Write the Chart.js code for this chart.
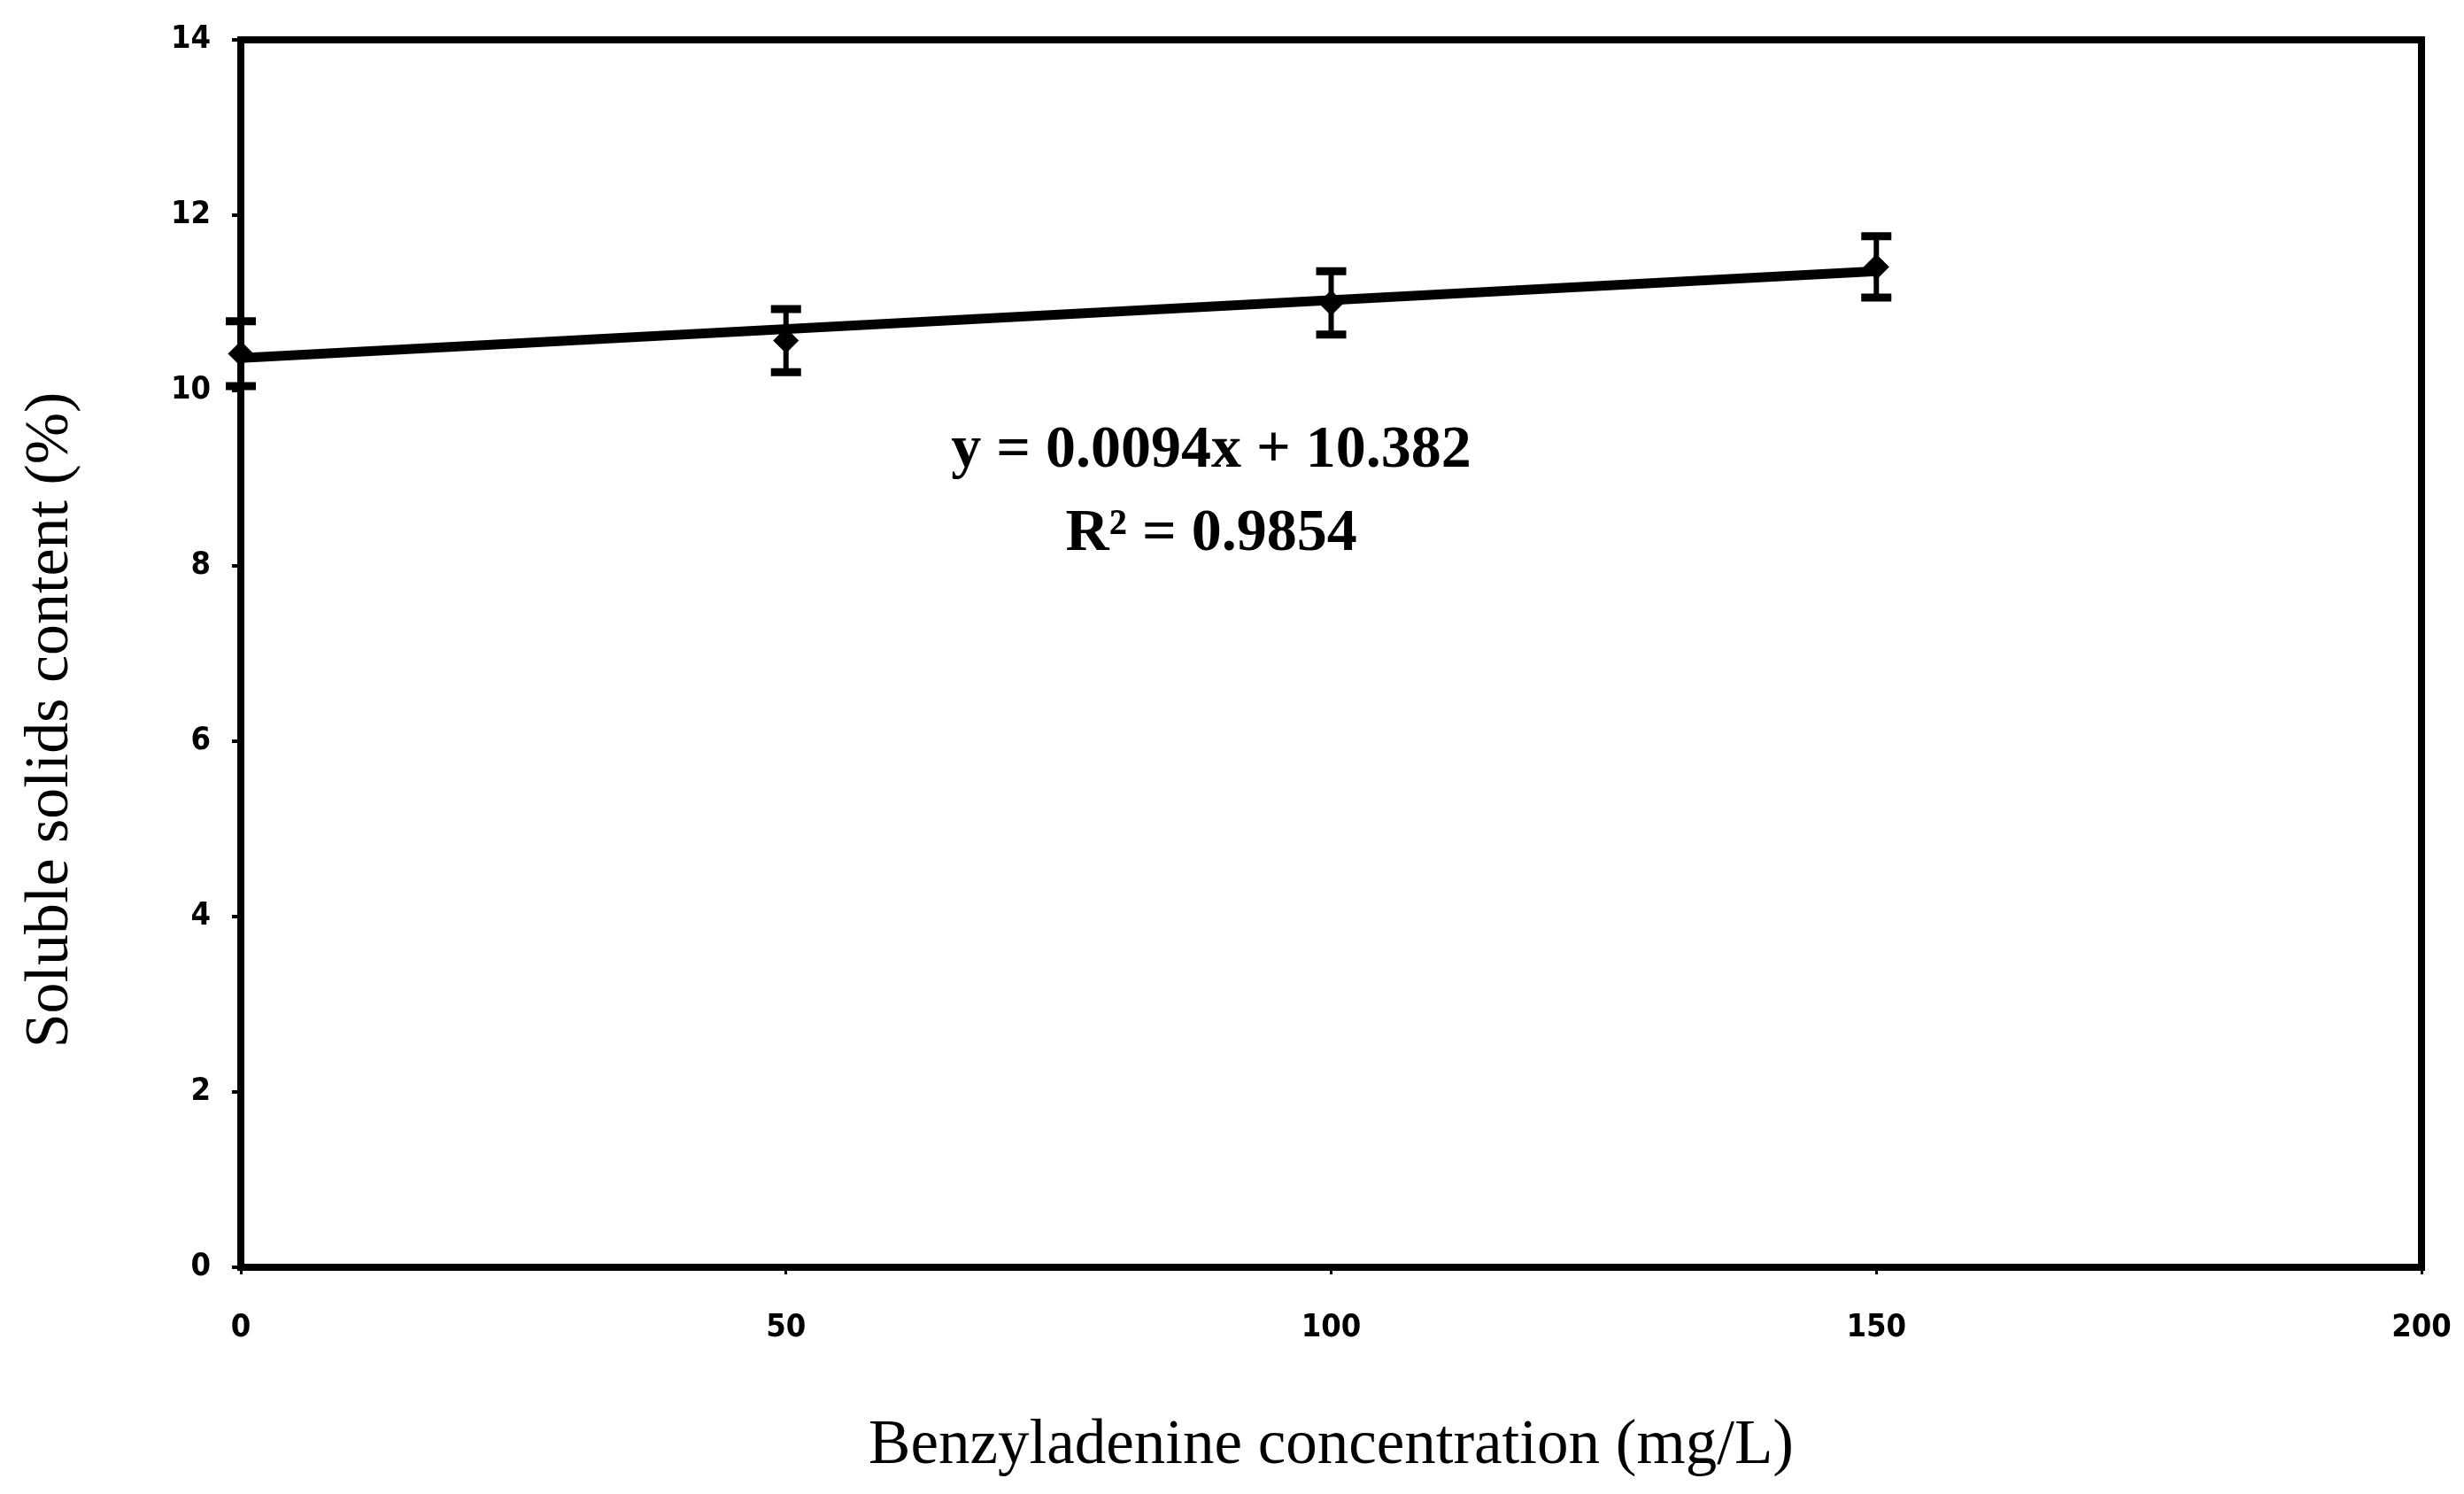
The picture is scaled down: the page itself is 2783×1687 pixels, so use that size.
<!doctype html>
<html>
<head>
<title>Soluble solids content</title>
<script src="https://cdn.jsdelivr.net/npm/chart.js@4/dist/chart.umd.min.js"></script>
<style>
html, body { margin: 0; padding: 0; background: #fff; }
#wrap { width: 2783px; height: 1687px; }
</style>
</head>
<body>
<div id="wrap"><canvas id="canvas"></canvas></div>
<script>
// values
var concentration = [0, 50, 100, 150];
var solids = [10.42, 10.57, 11.0, 11.41];
var solidsErr = [0.37, 0.36, 0.36, 0.35];
// trend line ends, as drawn
var trendX = [0, 150];
var trendY = [10.37, 11.36];
var yTicks = [0, 2, 4, 6, 8, 10, 12, 14];
var xTicks = [0, 50, 100, 150, 200];
var equationLines = ['y = 0.0094x + 10.382', 'R\u00b2 = 0.9854'];
var yTitle = 'Soluble solids content (%)';

var tickFont = { family: "'Liberation Sans Narrow', 'DejaVu Sans Condensed', 'Liberation Sans'", size: 36, weight: 'bold' };
var serif = "'Liberation Serif', 'DejaVu Serif', serif";

var frame = {
    id: 'frame',
    afterDraw: function(chart) {
        var a = chart.chartArea, ctx = chart.ctx;
        ctx.save();
        ctx.strokeStyle = '#000';
        ctx.lineWidth = 8;
        ctx.strokeRect(a.left, a.top, a.right - a.left, a.bottom - a.top);
        ctx.restore();
    }
};

var errorBars = {
    id: 'errorBars',
    afterDatasetsDraw: function(chart) {
        var ctx = chart.ctx, xs = chart.scales.x, ys = chart.scales.y;
        ctx.save();
        ctx.strokeStyle = '#000';
        for (var i = 0; i < concentration.length; i++) {
            var px = xs.getPixelForValue(concentration[i]);
            var top = ys.getPixelForValue(solids[i] + solidsErr[i]);
            var bot = ys.getPixelForValue(solids[i] - solidsErr[i]);
            ctx.lineWidth = 6;
            ctx.beginPath();
            ctx.moveTo(px, top);
            ctx.lineTo(px, bot);
            ctx.stroke();
            ctx.lineWidth = 9;
            ctx.beginPath();
            ctx.moveTo(px - 17, top);
            ctx.lineTo(px + 17, top);
            ctx.moveTo(px - 17, bot);
            ctx.lineTo(px + 17, bot);
            ctx.stroke();
        }
        ctx.restore();
    }
};

var labels = {
    id: 'labels',
    afterDraw: function(chart) {
        var ctx = chart.ctx, xs = chart.scales.x, ys = chart.scales.y;
        ctx.save();
        ctx.fillStyle = '#000';
        ctx.font = 'bold 68px ' + serif;
        ctx.textAlign = 'center';
        ctx.textBaseline = 'middle';
        ctx.fillText(equationLines[0], xs.getPixelForValue(89), ys.getPixelForValue(9.31));
        ctx.fillText(equationLines[1], xs.getPixelForValue(89), ys.getPixelForValue(8.36));
        // y axis title
        ctx.font = '70px ' + serif;
        ctx.translate(58, 813);
        ctx.rotate(-Math.PI / 2);
        ctx.fillText(yTitle, 0, 0);
        ctx.restore();
    }
};

var trendPoints = trendX.map(function(x, i) { return { x: x, y: trendY[i] }; });
var pointData = concentration.map(function(x, i) { return { x: x, y: solids[i] }; });

new Chart(document.getElementById('canvas'), {
    type: 'scatter',
    data: {
        datasets: [{
            label: 'Linear trend',
            data: trendPoints,
            showLine: true,
            borderColor: '#000',
            borderWidth: 11,
            pointRadius: 0
        }, {
            label: 'Soluble solids',
            data: pointData,
            clip: false,
            pointStyle: 'rectRot',
            pointRadius: 14,
            backgroundColor: '#000',
            borderColor: '#000'
        }]
    },
    options: {
        responsive: true,
        maintainAspectRatio: false,
        animation: false,
        layout: { padding: { top: 45, right: 48, left: 0, bottom: 0 } },
        plugins: { legend: { display: false }, tooltip: { enabled: false } },
        scales: {
            x: {
                type: 'linear',
                min: 0,
                max: 200,
                afterBuildTicks: function(s) { s.ticks = xTicks.map(function(v) { return { value: v }; }); },
                afterFit: function(s) { s.height = 256; s.paddingLeft = 0; s.paddingRight = 0; },
                border: { display: false },
                grid: { drawOnChartArea: false, color: '#000', lineWidth: 3, tickLength: 8 },
                ticks: { color: '#000', font: tickFont, padding: 39, maxRotation: 0 },
                title: {
                    display: true,
                    text: 'Benzyladenine concentration (mg/L)',
                    color: '#000',
                    font: { family: serif, size: 71 },
                    padding: { top: 0, bottom: 11 }
                }
            },
            y: {
                type: 'linear',
                min: 0,
                max: 14,
                afterBuildTicks: function(s) { s.ticks = yTicks.map(function(v) { return { value: v }; }); },
                afterFit: function(s) { s.width = 272; s.paddingTop = 0; s.paddingBottom = 0; },
                border: { display: false },
                grid: { drawOnChartArea: false, color: '#000', lineWidth: 4, tickLength: 10 },
                ticks: { color: '#000', font: tickFont, padding: 24 }
            }
        }
    },
    plugins: [frame, errorBars, labels]
});
</script>
</body>
</html>
